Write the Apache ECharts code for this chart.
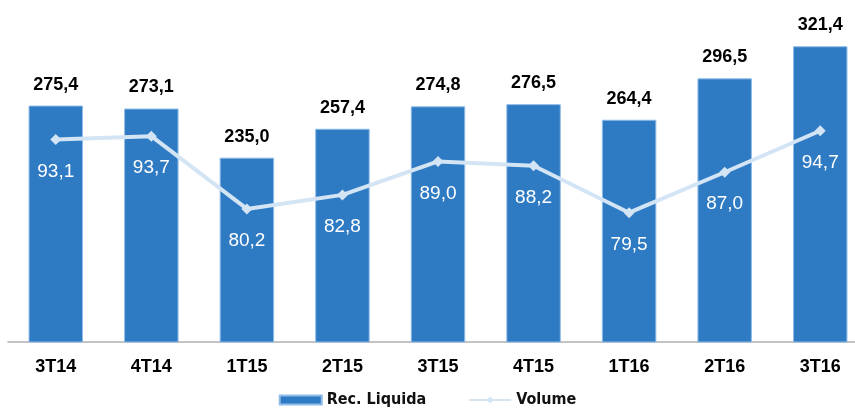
<!DOCTYPE html>
<html>
<head>
<meta charset="utf-8">
<script src="https://cdn.jsdelivr.net/npm/echarts@6/dist/echarts.min.js"></script>
<style>html,body{margin:0;padding:0;background:#fff}#c{width:855px;height:412px}</style>
</head>
<body>
<div id="c"></div>
<script>
const categories = ['3T14','4T14','1T15','2T15','3T15','4T15','1T16','2T16','3T16'];
const recLiquida = [275.4, 273.1, 235.0, 257.4, 274.8, 276.5, 264.4, 296.5, 321.4];
const volume = [93.1, 93.7, 80.2, 82.8, 89.0, 88.2, 79.5, 87.0, 94.7];
const fmt = v => v.toFixed(1).replace('.', ',');

const chart = echarts.init(document.getElementById('c'));
chart.setOption({
  animation: false,
  grid: { left: 8, width: 860, top: 30, bottom: 70, outerBoundsMode: 'none', containLabel: false },
  legend: {
    bottom: -1, left: 'center', itemGap: 42, itemWidth: 42, itemHeight: 9,
    textStyle: { fontFamily: "'Liberation Sans Narrow', 'DejaVu Sans Condensed', 'Roboto', sans-serif", fontWeight: 'bold', fontSize: 16, color: '#111' },
    data: [
      { name: 'Rec. Liquida', icon: 'rect' },
      { name: 'Volume' }
    ]
  },
  xAxis: {
    type: 'category', data: categories,
    axisLine: { lineStyle: { color: '#b0b0b0', width: 1.5 } },
    axisTick: { show: false },
    axisLabel: { margin: 16, fontFamily: 'Liberation Sans', fontWeight: 'bold', fontSize: 18, color: '#000' }
  },
  yAxis: [
    { type: 'value', min: 92, max: 334, show: false, splitLine: { show: false } },
    { type: 'value', min: 55.5, max: 113.4, show: false, splitLine: { show: false } }
  ],
  series: [
    {
      name: 'Rec. Liquida', type: 'bar', data: recLiquida, barWidth: '57%',
      itemStyle: { color: '#2E7AC3', borderColor: '#8FBCE8', borderWidth: 1 },
      label: {
        show: true, position: 'top', distance: 12,
        formatter: p => fmt(p.value),
        fontFamily: 'Liberation Sans', fontWeight: 'bold', fontSize: 18, color: '#000'
      }
    },
    {
      name: 'Volume', type: 'line', yAxisIndex: 1, data: volume,
      symbol: 'diamond', symbolSize: 11,
      lineStyle: { color: '#D3E4F5', width: 4 },
      itemStyle: { color: '#D3E4F5' },
      label: {
        show: true, position: 'bottom', distance: 17,
        formatter: p => fmt(p.value),
        fontFamily: 'Liberation Sans', fontSize: 19, color: '#fff'
      }
    }
  ]
});
</script>
</body>
</html>
